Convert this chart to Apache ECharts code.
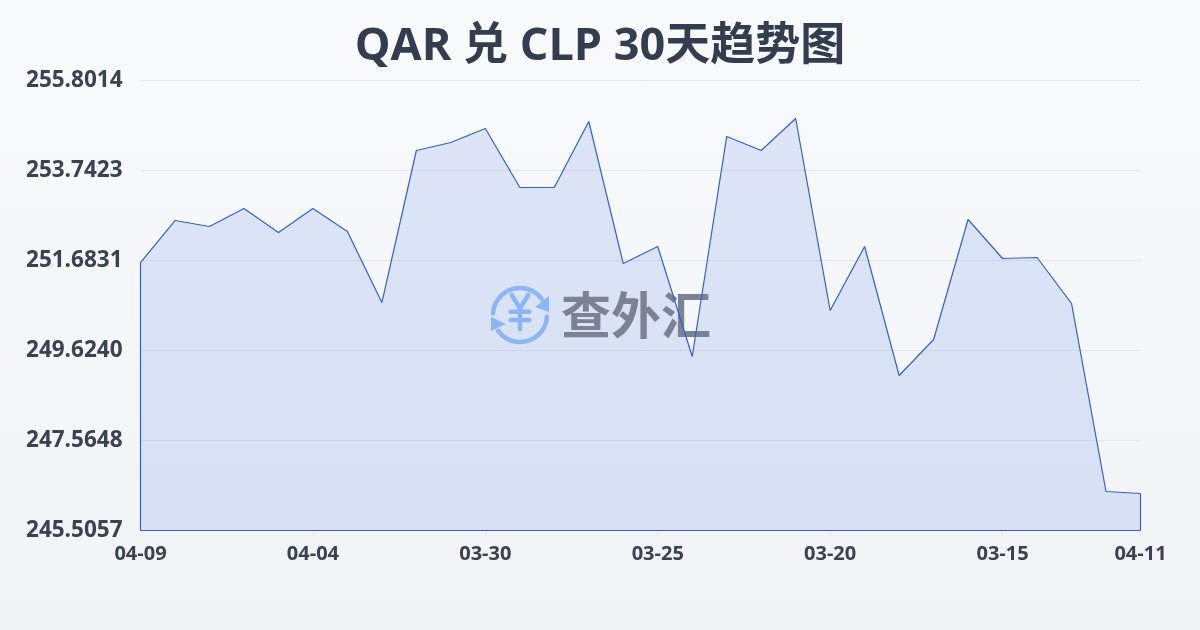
<!DOCTYPE html>
<html><head><meta charset="utf-8">
<style>html,body{margin:0;padding:0;background:#f5f7fa}#c{width:1200px;height:630px}</style>
<script src="https://cdn.jsdelivr.net/npm/echarts@6/dist/echarts.min.js"></script>
</head><body><div id="c"></div>
<script>
const titleText = 'QAR 兑 CLP 30天趋势图';
const categories = ['04-09','04-08','04-07','04-06','04-05','04-04','04-03','04-02','04-01','03-31','03-30','03-29','03-28','03-27','03-26','03-25','03-24','03-23','03-22','03-21','03-20','03-19','03-18','03-17','03-16','03-15','03-14','03-13','03-12','04-11'];
const rates = [251.637,252.598,252.461,252.873,252.324,252.873,252.347,250.722,254.200,254.383,254.703,253.353,253.353,254.863,251.614,252.003,249.487,254.520,254.200,254.932,250.539,252.003,249.052,249.876,252.621,251.729,251.752,250.699,246.398,246.352];
const labelledIndices = [0,5,10,15,20,25,29];
const yMin = 245.5057, yMax = 255.8014, ySplits = 5;
const font = '"Open Sans","Noto Sans CJK SC",sans-serif';
const chart = echarts.init(document.getElementById('c'), null, {renderer:'canvas'});
const iconBlue = '#8cb5f7', lineBlue = '#2f63c9';
const stroke = {stroke:iconBlue,lineWidth:4.5,fill:null,lineCap:'round',lineJoin:'round'};
chart.setOption({
  animation:false,
  backgroundColor:{type:'linear',x:0,y:0,x2:0,y2:1,colorStops:[{offset:0,color:'#f9fafc'},{offset:1,color:'#f1f3f6'}]},
  title:{text:titleText,left:'center',top:20,textStyle:{fontFamily:font,fontSize:45,fontWeight:'bold',color:'#333d50'}},
  grid:{left:140.5,right:59.5,top:80.5,bottom:99.5},
  xAxis:{type:'category',boundaryGap:false,data:categories,
    axisLine:{show:false},
    axisTick:{show:true,length:6,lineStyle:{color:'#e5e7eb'},interval:(i)=>labelledIndices.includes(i)},
    axisLabel:{interval:(i)=>labelledIndices.includes(i),showMinLabel:true,showMaxLabel:true,hideOverlap:false,fontFamily:font,fontSize:20,fontWeight:'bold',color:'#394252',margin:14},
    splitLine:{show:false}},
  yAxis:{type:'value',min:yMin,max:yMax,interval:(yMax-yMin)/ySplits,
    axisLine:{show:false},axisTick:{show:false},
    axisLabel:{formatter:(v)=>v.toFixed(4),fontFamily:font,fontSize:22.5,fontWeight:'bold',color:'#394252',margin:18,padding:[0,0,2,0]},
    splitLine:{show:true,lineStyle:{color:'#e3e6ec',width:1}}},
  graphic:[
    {type:'arc',z:3,silent:true,shape:{cx:520,cy:315,r:27,startAngle:-Math.PI*0.98,endAngle:-Math.PI*0.2},style:stroke},
    {type:'arc',z:3,silent:true,shape:{cx:520,cy:315,r:27,startAngle:Math.PI*0.02,endAngle:Math.PI*0.8},style:stroke},
    {type:'polygon',z:3,silent:true,shape:{points:[[549,296],[549,312],[535,307]]},style:{fill:iconBlue}},
    {type:'polygon',z:3,silent:true,shape:{points:[[491,317],[506,324],[491,331]]},style:{fill:iconBlue}},
    {type:'polyline',z:3,silent:true,shape:{points:[[511.7,295],[520,308.3],[528.3,295]]},style:stroke},
    {type:'polyline',z:3,silent:true,shape:{points:[[520,308.3],[520,329.3]]},style:stroke},
    {type:'polyline',z:3,silent:true,shape:{points:[[510.7,311.7],[529.3,311.7]]},style:stroke},
    {type:'polyline',z:3,silent:true,shape:{points:[[510.7,320],[529.3,320]]},style:stroke},
    {type:'text',z:3,silent:true,style:{text:'查外汇',x:561,y:315,align:'left',verticalAlign:'middle',font:'bold 50px "Noto Sans CJK SC"',fill:'#7a8294'}}
  ],
  series:[
    {type:'line',data:rates,z:2,symbol:'none',lineStyle:{width:0},areaStyle:{color:'rgba(70,115,225,0.21)',origin:'start'}},
    {type:'line',data:rates,z:4,symbol:'none',silent:true,clip:false,lineStyle:{color:lineBlue,width:1.2},
     markLine:{silent:true,symbol:'none',label:{show:false},lineStyle:{color:lineBlue,width:1.2,type:'solid'},animation:false,
       data:[
         [{coord:[categories[0],yMin]},{coord:[categories[0],rates[0]]}],
         [{coord:[categories[categories.length-1],yMin]},{coord:[categories[categories.length-1],rates[rates.length-1]]}],
         [{coord:[categories[0],yMin]},{coord:[categories[categories.length-1],yMin]}]
       ]}}
  ]
});
</script></body></html>
